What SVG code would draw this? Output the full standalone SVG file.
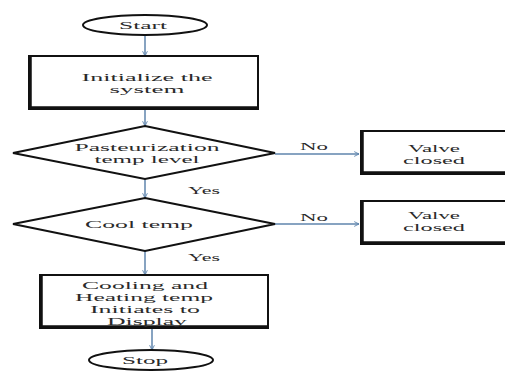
<svg xmlns="http://www.w3.org/2000/svg" width="505" height="371" viewBox="0 0 505 371">
<defs>
<style>
.sh{fill:#fff;stroke:#111;stroke-width:2}
.bx{fill:#fff;stroke:#111;stroke-width:2}
.edge{stroke:#111;stroke-width:3.5;fill:none}
.t{font-family:"Liberation Serif","DejaVu Serif","Times New Roman",serif;font-size:11px;fill:#2a2a2a;text-anchor:middle}
.c{stroke:#5f84ad;stroke-width:1.5;fill:none;marker-end:url(#ah)}
</style>
<marker id="ah" viewBox="0 0 10 10" refX="9" refY="5" markerWidth="6" markerHeight="6" orient="auto" markerUnits="userSpaceOnUse">
<path d="M1,1 L9,5 L1,9" fill="none" stroke="#5f84ad" stroke-width="1.5"/>
</marker>
</defs>
<rect width="505" height="371" fill="#fff"/>
<g id="connectors">
<line class="c" x1="145" y1="35" x2="145" y2="56"/>
<line class="c" x1="145" y1="109" x2="145" y2="126"/>
<line class="c" x1="145" y1="179" x2="145" y2="198"/>
<line class="c" x1="275" y1="154" x2="359" y2="154"/>
<line class="c" x1="275" y1="224" x2="359" y2="224"/>
<line class="c" x1="145" y1="251" x2="145" y2="275"/>
<line class="c" x1="152" y1="328" x2="152" y2="350"/>
<text class="t" x="314" y="150" textLength="28" lengthAdjust="spacingAndGlyphs">No</text>
<text class="t" x="204" y="194" textLength="32" lengthAdjust="spacingAndGlyphs">Yes</text>
<text class="t" x="314" y="221" textLength="28" lengthAdjust="spacingAndGlyphs">No</text>
<text class="t" x="204" y="261" textLength="32" lengthAdjust="spacingAndGlyphs">Yes</text>
</g>
<g id="start">
<ellipse class="sh" cx="145" cy="25" rx="62" ry="10"/>
<text class="t" x="143" y="29" textLength="48" lengthAdjust="spacingAndGlyphs">Start</text>
</g>
<g id="init">
<rect class="bx" x="29" y="56" width="229" height="53"/>
<path class="edge" d="M30,56 V108 H258"/>
<text class="t" x="147" y="81" textLength="131" lengthAdjust="spacingAndGlyphs">Initialize the</text>
<text class="t" x="147" y="93" textLength="75" lengthAdjust="spacingAndGlyphs">system</text>
</g>
<g id="pasteurization">
<polygon class="sh" points="145,126 275,153 145,179 13,153"/>
<text class="t" x="147" y="151" textLength="145" lengthAdjust="spacingAndGlyphs">Pasteurization</text>
<text class="t" x="147" y="163" textLength="105" lengthAdjust="spacingAndGlyphs">temp level</text>
</g>
<g id="valve1">
<rect class="bx" x="361" y="131" width="150" height="43"/>
<path class="edge" d="M362,131 V173 H505"/>
<text class="t" x="434" y="152" textLength="52" lengthAdjust="spacingAndGlyphs">Valve</text>
<text class="t" x="434" y="164" textLength="62" lengthAdjust="spacingAndGlyphs">closed</text>
</g>
<g id="cooltemp">
<polygon class="sh" points="145,198 275,224 145,251 13,224"/>
<text class="t" x="139" y="228" textLength="108" lengthAdjust="spacingAndGlyphs">Cool temp</text>
</g>
<g id="valve2">
<rect class="bx" x="361" y="201" width="150" height="43"/>
<path class="edge" d="M362,201 V243 H505"/>
<text class="t" x="434" y="219" textLength="52" lengthAdjust="spacingAndGlyphs">Valve</text>
<text class="t" x="434" y="231" textLength="62" lengthAdjust="spacingAndGlyphs">closed</text>
</g>
<g id="display">
<rect class="bx" x="40" y="275" width="228" height="53"/>
<path class="edge" d="M41,275 V327 H268"/>
<text class="t" x="145" y="289" textLength="126" lengthAdjust="spacingAndGlyphs">Cooling and</text>
<text class="t" x="144" y="301" textLength="138" lengthAdjust="spacingAndGlyphs">Heating temp</text>
<text class="t" x="145" y="313" textLength="110" lengthAdjust="spacingAndGlyphs">Initiates to</text>
<text class="t" x="147" y="325" textLength="80" lengthAdjust="spacingAndGlyphs">Display</text>
</g>
<g id="stop">
<ellipse class="sh" cx="151" cy="360" rx="62" ry="10"/>
<text class="t" x="145" y="364" textLength="46" lengthAdjust="spacingAndGlyphs">Stop</text>
</g>
</svg>
